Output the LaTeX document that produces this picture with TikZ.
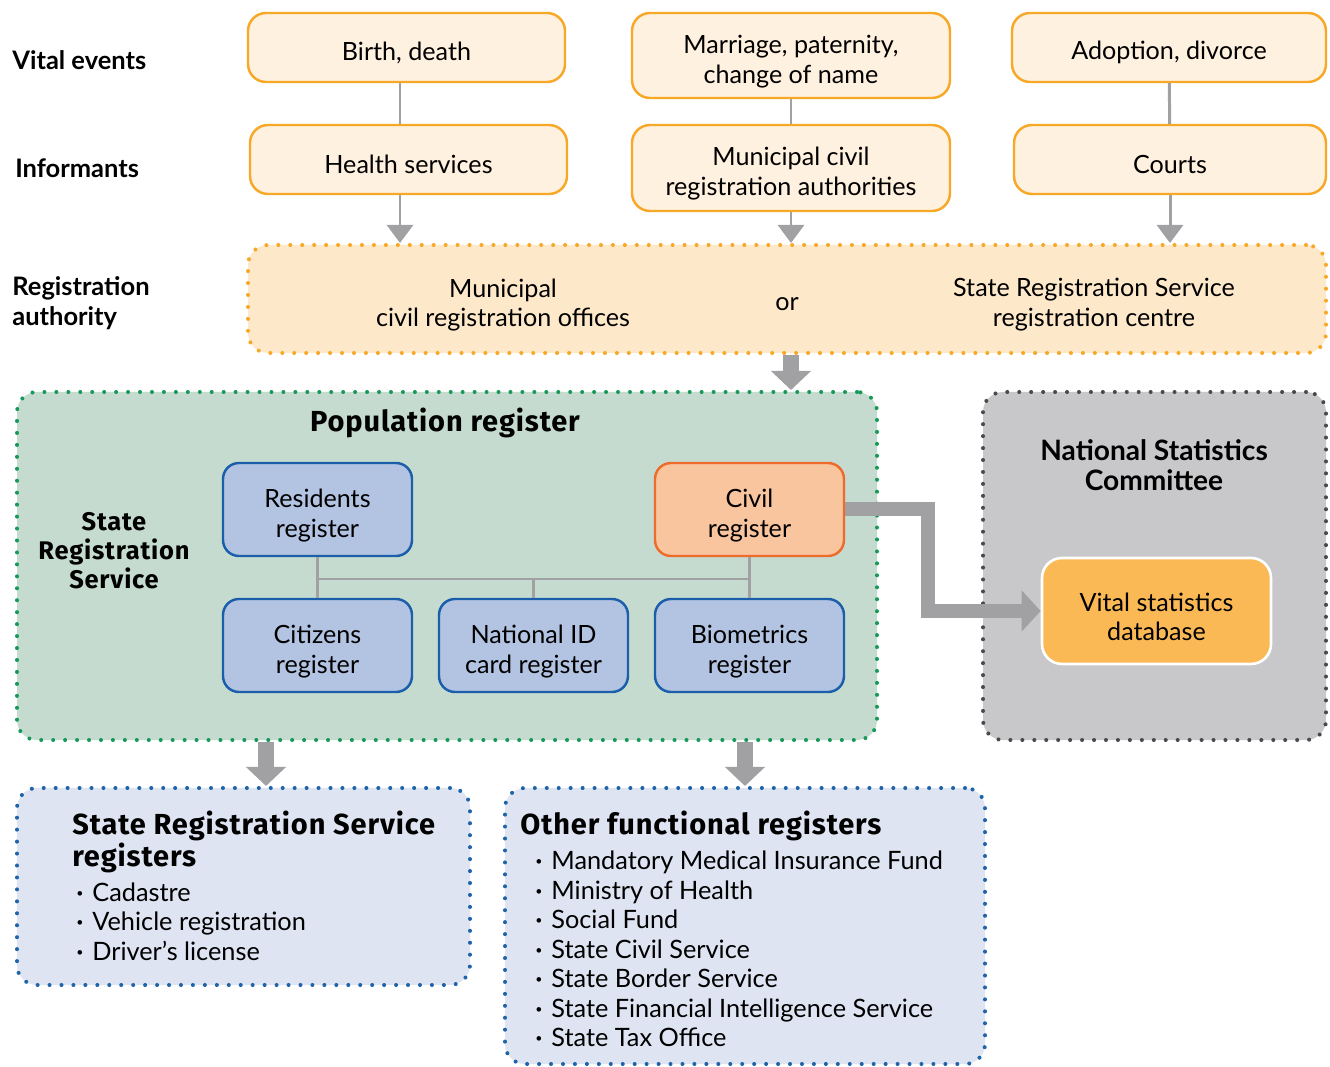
\documentclass[tikz,border=0pt]{standalone}
\usepackage{fontspec}
\setmainfont{Lato}
\newfontfamily\headfont[LetterSpace=3]{Fira Sans}
\usetikzlibrary{arrows.meta}

\definecolor{evfill}{HTML}{FFF1DF}
\definecolor{evline}{HTML}{F7A827}
\definecolor{authfill}{HTML}{FEE8CA}
\definecolor{arrgray}{HTML}{A1A1A4}
\definecolor{popfill}{HTML}{C5DBCF}
\definecolor{popline}{HTML}{17995A}
\definecolor{regfill}{HTML}{B3C3E2}
\definecolor{regline}{HTML}{1B5FAA}
\definecolor{civfill}{HTML}{F9C59F}
\definecolor{civline}{HTML}{EE6C2B}
\definecolor{nscfill}{HTML}{C8C8CA}
\definecolor{nscline}{HTML}{4A4A4C}
\definecolor{vsdfill}{HTML}{FBB956}
\definecolor{listfill}{HTML}{DFE4F2}
\definecolor{listline}{HTML}{1F63A8}

\newcommand{\bitem}{\makebox[0.32cm][l]{\raisebox{0.3ex}{\fontsize{7}{7}\selectfont\textbullet}}}

\begin{document}
\begin{tikzpicture}[
        txt/.style={font=\fontsize{14.3}{17}\selectfont, align=center},
        boxtxt/.style={txt, execute at begin node={\rule{0pt}{#1}}},
        boxtxt/.default=0.57cm,
        evbox/.style={boxtxt, draw=evline, fill=evfill, line width=1.4pt, rounded corners=0.36cm, minimum width=6.34cm, minimum height=1.38cm, inner sep=0pt},
        regbox/.style={boxtxt=1.2cm, draw=regline, fill=regfill, line width=1.4pt, rounded corners=0.32cm, minimum width=3.78cm, minimum height=1.86cm, inner sep=0pt},
        dotbox/.style={line width=2.3pt, dash pattern=on 0pt off 6.8pt, line cap=round, rounded corners=0.4cm, inner sep=0pt},
        rowlabel/.style={font=\bfseries\fontsize{14.5}{17}\selectfont, anchor=west, align=left, inner sep=0pt},
        headtxt/.style={font=\headfont\bfseries\fontsize{16.5}{17}\selectfont, align=center},
        listtxt/.style={font=\fontsize{14.4}{16.8}\selectfont, anchor=west, align=left, inner sep=0pt},
        thin/.style={draw=arrgray, line width=1.7pt},
        thinarr/.style={thin, -{Triangle[width=0.52cm,length=0.36cm]}},
        thickarr/.style={draw=arrgray, line width=0.32cm, -{Triangle[width=0.78cm,length=0.38cm]}}
    ]
        \useasboundingbox (0,0) rectangle (26.6,-21.34);

        % row labels
        \node[rowlabel] (lvital) at (0.24,-1.20) {Vital events};
        \node[rowlabel] (linf) at (0.30,-3.36) {Informants};
        \node[rowlabel] (lauth) at (0.24,-6.06) {Registration\\authority};

        % vital events and informants
        \node[evbox] (birth) at (8.13,-0.95) {Birth, death};
        \node[evbox, boxtxt=1.2cm, minimum width=6.36cm, minimum height=1.70cm] (marr) at (15.82,-1.11) {Marriage, paternity,\\change of name};
        \node[evbox, minimum width=6.28cm] (adopt) at (23.38,-0.95) {Adoption, divorce};
        \node[evbox] (health) at (8.17,-3.19) {Health services};
        \node[evbox, boxtxt=1.2cm, minimum width=6.36cm, minimum height=1.72cm] (muni) at (15.82,-3.36) {Municipal civil\\registration authorities};
        \node[evbox, minimum width=6.24cm] (courts) at (23.40,-3.19) {Courts};

        % registration authority
        \node[dotbox, draw=evline, fill=authfill, minimum width=21.56cm, minimum height=2.16cm] (auth) at (15.74,-5.98) {};
        \node[txt] (offices) at (10.06,-6.10) {Municipal\\civil registration offices};
        \node[txt] (or) at (15.74,-6.08) {or};
        \node[txt] (centre) at (21.88,-6.10) {State Registration Service\\registration centre};

        \draw[thin] ([xshift=-0.13cm]birth.south) -- ([xshift=-0.13cm]birth.south |- health.north);
        \draw[thin] (marr) -- (muni);
        \draw[thin] (adopt) -- (courts);
        \draw[thinarr] ([xshift=-0.17cm]health.south) -- ([xshift=-0.17cm]health.south |- auth.north);
        \draw[thinarr] (muni.south) -- (muni.south |- auth.north);
        \draw[thinarr] (courts.south) -- (courts.south |- auth.north);

        % population register
        \node[dotbox, draw=popline, fill=popfill, minimum width=17.2cm, minimum height=6.96cm] (pop) at (8.94,-11.32) {};
        \node[headtxt] (poptitle) at (8.90,-8.46) {Population register};
        \node[headtxt, font=\headfont\bfseries\fontsize{14.5}{16.5}\selectfont] (srs) at (2.28,-11.02) {State\\Registration\\Service};
        \node[regbox] (res) at (6.35,-10.19) {Residents\\register};
        \node[regbox, draw=civline, fill=civfill] (civ) at (14.99,-10.19) {Civil\\register};
        \node[regbox] (cit) at (6.35,-12.91) {Citizens\\register};
        \node[regbox] (nid) at (10.67,-12.91) {National ID\\card register};
        \node[regbox] (bio) at (14.99,-12.91) {Biometrics\\register};

        \draw[thin] (res) -- (cit);
        \draw[thin] (civ) -- (bio);
        \draw[thin] (res.south |- 0,-11.58) -- (civ.south |- 0,-11.58);
        \draw[thin] (nid.north) -- (nid.north |- 0,-11.58);

        \draw[thickarr] (muni.south |- auth.south) -- (muni.south |- pop.north);

        % national statistics committee
        \node[dotbox, draw=nscline, fill=nscfill, minimum width=6.86cm, minimum height=6.96cm] (nsc) at (23.09,-11.32) {};
        \node[txt, font=\bfseries\fontsize{16}{17}\selectfont] (nsctitle) at (23.08,-9.30) {National Statistics\\Committee};
        \node[boxtxt=1.2cm, draw=white, fill=vsdfill, line width=1.5pt, rounded corners=0.4cm, minimum width=4.58cm, minimum height=2.12cm, inner sep=0pt] (vsd) at (23.13,-12.22) {Vital statistics\\database};

        \draw[thickarr, line width=0.28cm, -{Triangle[width=0.80cm,length=0.38cm]}] (civ.east) -- ++(1.66,0) |- (vsd.west);

        % registers below
        \node[dotbox, draw=listline, fill=listfill, minimum width=9.06cm, minimum height=3.94cm] (srsreg) at (4.87,-17.73) {};
        \node[headtxt, anchor=west, align=left, inner sep=0pt] (srstitle) at (1.44,-16.84) {State Registration Service\\registers};
        \node[listtxt] (srslist) at (1.52,-18.43) {\bitem Cadastre\\\bitem Vehicle registration\\\bitem Driver's license};

        \node[dotbox, draw=listline, fill=listfill, minimum width=9.6cm, minimum height=5.52cm] (other) at (14.90,-18.52) {};
        \node[headtxt, anchor=west, align=left, inner sep=0pt] (othertitle) at (10.40,-16.52) {Other functional registers};
        \node[listtxt] (otherlist) at (10.70,-18.98) {\bitem Mandatory Medical Insurance Fund\\\bitem Ministry of Health\\\bitem Social Fund\\\bitem State Civil Service\\\bitem State Border Service\\\bitem State Financial Intelligence Service\\\bitem State Tax Office};

        \draw[thickarr] ([xshift=0.45cm]srsreg.north |- pop.south) -- ([xshift=0.45cm]srsreg.north);
        \draw[thickarr] (other.north |- pop.south) -- (other.north);

\end{tikzpicture}
\end{document}
